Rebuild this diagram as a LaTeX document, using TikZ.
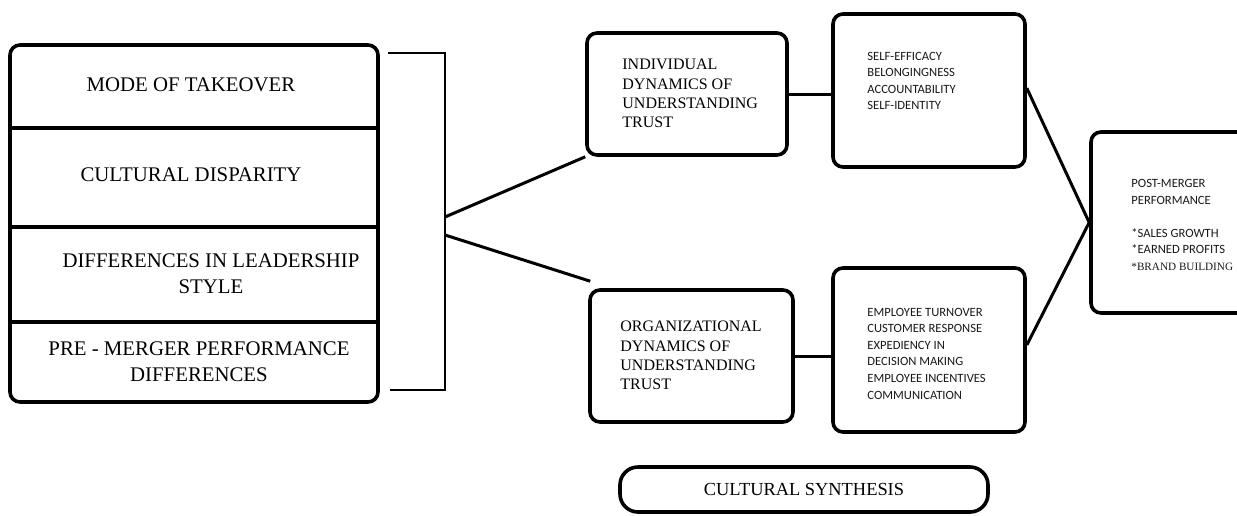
\documentclass[tikz,border=0pt]{standalone}
\usepackage{fontspec}
\setmainfont{Liberation Serif}
\newfontfamily\calibfont{Carlito}
\usepackage{tikz}
\tikzset{
  box/.style={draw, line width=1.8pt, rounded corners=5pt, inner sep=0pt},
  link/.style={line width=1.5pt},
  bigtext/.style={font=\fontsize{10.4}{13}\selectfont, align=center, text=black},
  midtext/.style={font=\fontsize{8}{9.7}\selectfont, align=left, anchor=west, inner sep=0pt, text=black},
  smalltext/.style={font=\calibfont\fontsize{6.3}{8.3}\selectfont, align=left, anchor=west, inner sep=0pt, text=black!90},
}

\begin{document}
\begin{tikzpicture}[x=0.5pt,y=-0.5pt]
    \useasboundingbox (0,0) rectangle (1237,515);
    \clip (0,0) rectangle (1237,515);

    % Factor box on the left
    \node[box, minimum width=184pt, minimum height=178.5pt] (factors) at (194,223.5) {};
    \foreach \y in {128,227,322} {
        \draw[line width=1.6pt] (factors.west |- 0,\y) -- (factors.east |- 0,\y);
    }
    \node[bigtext] (tmode) at (191,85) {MODE OF TAKEOVER};
    \node[bigtext] (tcult) at (191,175) {CULTURAL DISPARITY};
    \node[bigtext] (tlead) at (211,273.5) {DIFFERENCES IN LEADERSHIP\\STYLE};
    \node[bigtext] (tpre) at (199,361.5) {PRE - MERGER PERFORMANCE\\DIFFERENCES};

    % Bracket
    \coordinate (brtopend) at (388,53);
    \coordinate (brtop) at (445,53);
    \coordinate (brbot) at (445,390);
    \coordinate (brbotend) at (390,390);
    \coordinate (brup) at (445,217);
    \coordinate (brlow) at (445,235);
    \draw[line width=1.3pt] (brtopend) -- (brtop) -- (brbot) -- (brbotend);

    % Dynamics of trust
    \node[box, minimum width=100pt, minimum height=61pt] (indiv) at (687,94) {};
    \node[midtext] (tindiv) at (622,93.5) {INDIVIDUAL\\DYNAMICS OF\\UNDERSTANDING\\TRUST};
    \node[box, minimum width=101.5pt, minimum height=66pt] (organ) at (691.5,356) {};
    \node[midtext] (torgan) at (620,355.5) {ORGANIZATIONAL\\DYNAMICS OF\\UNDERSTANDING\\TRUST};

    % Outcome boxes
    \node[box, minimum width=96pt, minimum height=76.5pt] (self) at (929,90.5) {};
    \node[smalltext] (tself) at (867,81) {SELF-EFFICACY\\BELONGINGNESS\\ACCOUNTABILITY\\SELF-IDENTITY};
    \node[box, minimum width=96pt, minimum height=82pt] (emp) at (929,350) {};
    \node[smalltext] (temp) at (867,353.5) {EMPLOYEE TURNOVER\\CUSTOMER RESPONSE\\EXPEDIENCY IN\\DECISION MAKING\\EMPLOYEE INCENTIVES\\COMMUNICATION};

    % Post-merger performance
    \node[box, minimum width=79.5pt, minimum height=90.5pt] (post) at (1170.5,222.5) {};
    \node[smalltext] (tpost) at (1131,225) {POST-MERGER\\PERFORMANCE\\[8.2pt]*SALES GROWTH\\*EARNED PROFITS\\{\rmfamily\fontsize{5.6}{8.3}\selectfont *BRAND BUILDING}};

    % Cultural synthesis
    \node[box, rounded corners=9pt, minimum width=184pt, minimum height=22.5pt,
          font=\fontsize{9.2}{11}\selectfont] (synth) at (804,489.5) {CULTURAL SYNTHESIS};

    % Connectors
    \draw[link] (brup) -- (indiv.south west);
    \draw[link] (brlow) -- ([shift={(2,-7)}]organ.north west);
    \draw[link] (indiv.east) -- (indiv.east -| self.west);
    \draw[link] (organ.east) -- (organ.east -| emp.west);
    \draw[link] ([yshift=1.2pt]self.east) -- (post.west) -- ([yshift=2.5pt]emp.east);
\end{tikzpicture}
\end{document}
